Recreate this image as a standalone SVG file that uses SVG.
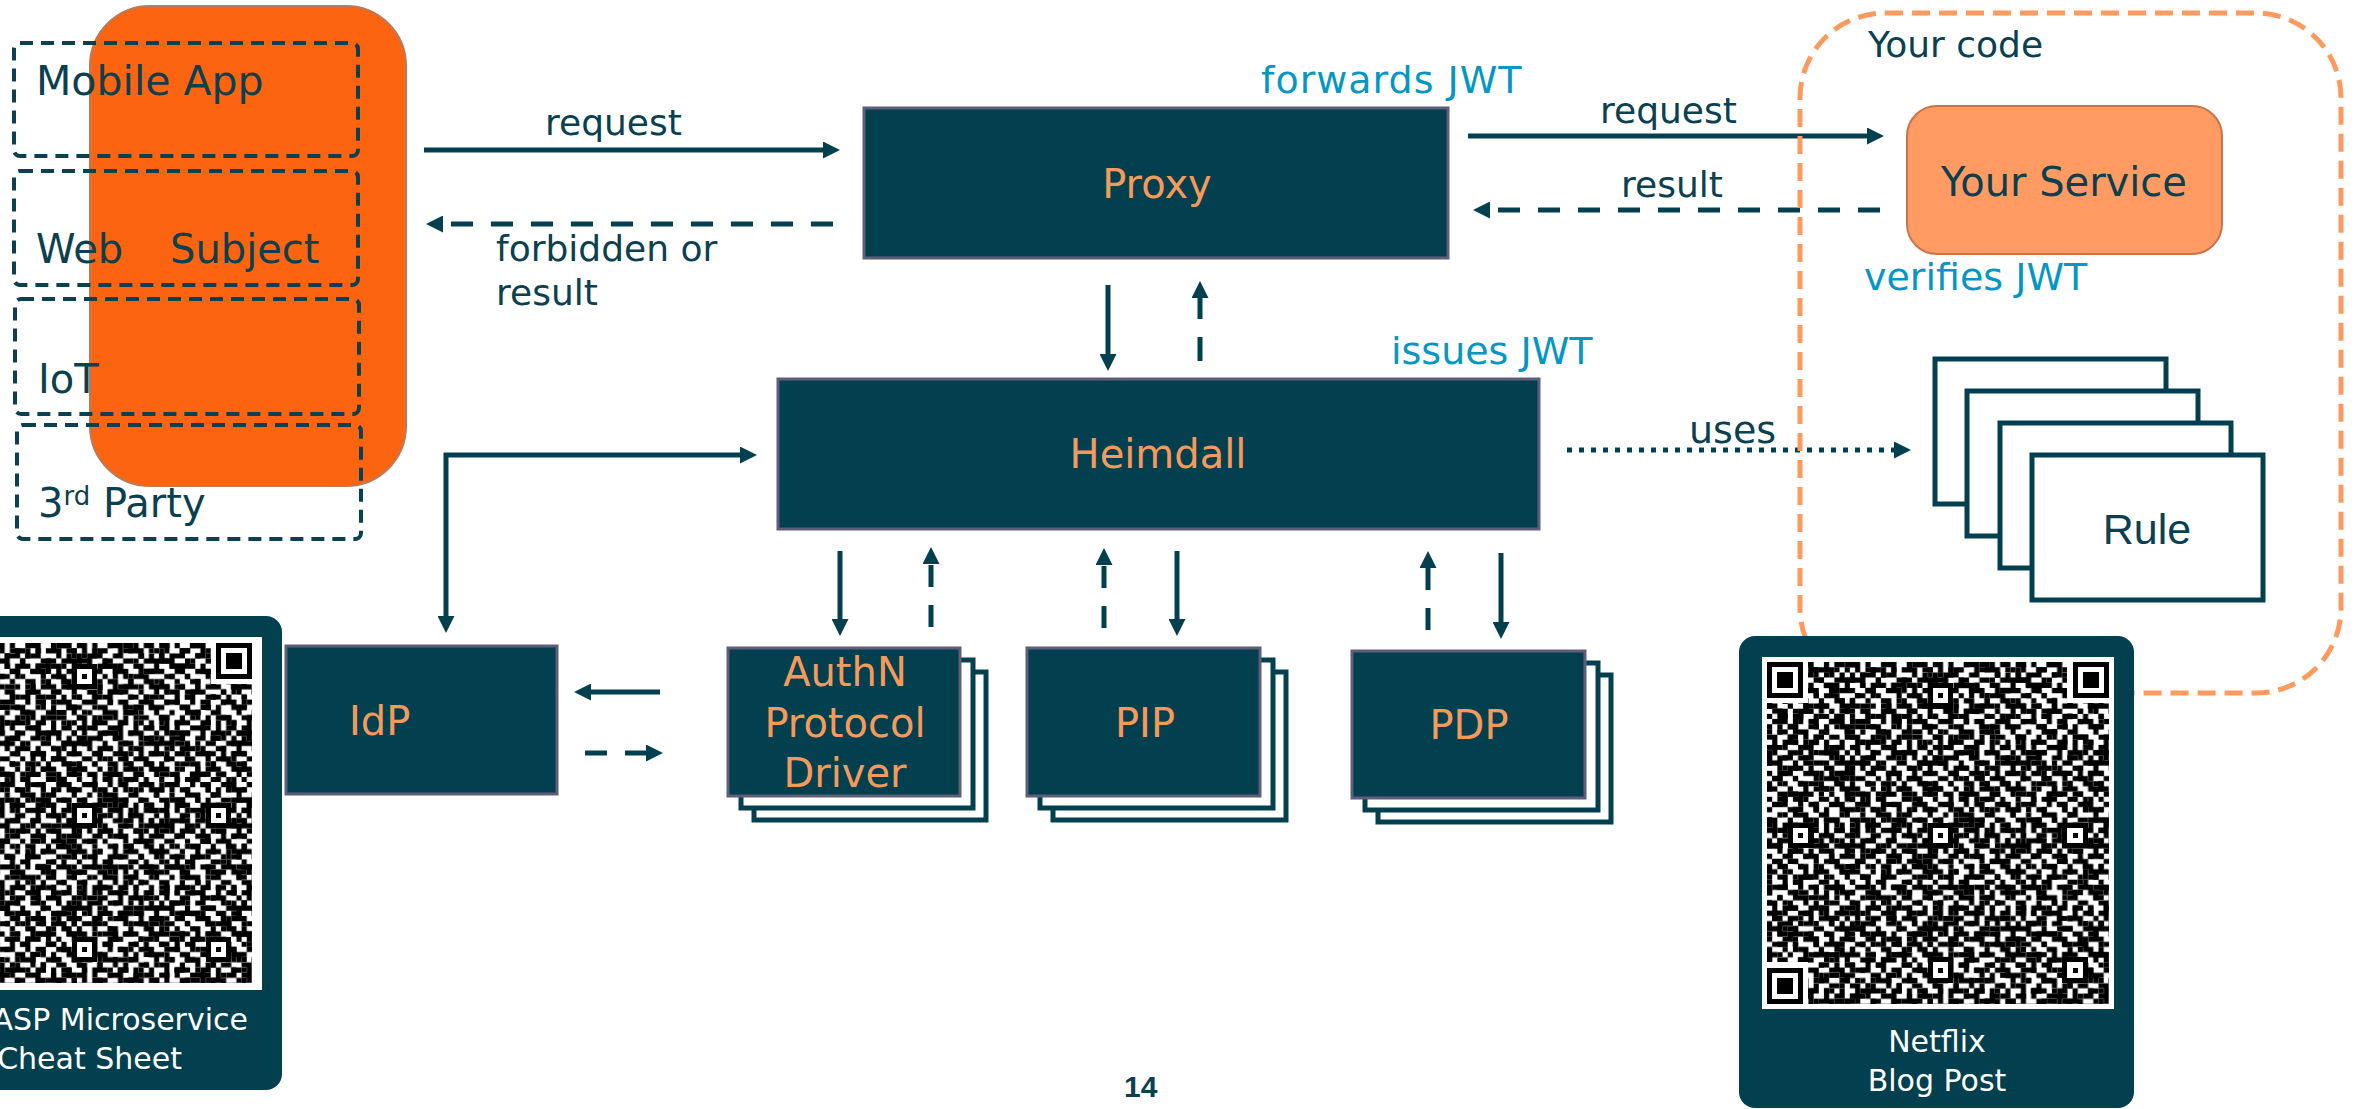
<svg xmlns="http://www.w3.org/2000/svg" xmlns:xlink="http://www.w3.org/1999/xlink" width="2356" height="1109" viewBox="0 0 2356 1109">
<style>
.t{font-family:'DejaVu Sans',sans-serif}
.dark{fill:#0B4050}
.or{fill:#F69A5C}
.cy{fill:#0696C3}
.wh{fill:#ffffff}
.box{fill:#02404F;stroke:#5E5D7A;stroke-width:3}
.back{fill:#ffffff;stroke:#02404F;stroke-width:5}
.cl{fill:none;stroke:#0B4050;stroke-width:4;stroke-dasharray:13 8}
.ln{fill:none;stroke:#02404F;stroke-width:5}
.dash{stroke-dasharray:22 18}
.dot{stroke-dasharray:5 7}
.card{fill:#02404F}
</style>
<defs>
<marker id="ah" viewBox="0 0 17 17" refX="2" refY="8.5" markerWidth="17" markerHeight="17" markerUnits="userSpaceOnUse" orient="auto-start-reverse">
<path d="M0,0 L17,8.5 L0,17 z" fill="#02404F"/>
</marker>
<pattern id="qrA" patternUnits="userSpaceOnUse" width="16" height="16">
<path fill="#000" d="M0 0h2v1h-2z M3 0h1v1h-1z M6 0h3v1h-3z M11 0h1v1h-1z M13 0h2v1h-2z
M1 1h1v1h-1z M4 1h2v1h-2z M8 1h1v1h-1z M10 1h3v1h-3z M15 1h1v1h-1z
M0 2h1v1h-1z M2 2h3v1h-3z M7 2h2v1h-2z M12 2h1v1h-1z M14 2h1v1h-1z
M0 3h3v1h-3z M5 3h1v1h-1z M9 3h2v1h-2z M13 3h3v1h-3z
M2 4h1v1h-1z M4 4h3v1h-3z M8 4h1v1h-1z M11 4h2v1h-2z M15 4h1v1h-1z
M0 5h1v1h-1z M3 5h2v1h-2z M7 5h3v1h-3z M12 5h1v1h-1z M14 5h2v1h-2z
M1 6h2v1h-2z M5 6h1v1h-1z M9 6h1v1h-1z M11 6h3v1h-3z
M0 7h1v1h-1z M3 7h1v1h-1z M6 7h2v1h-2z M10 7h1v1h-1z M13 7h2v1h-2z
M0 8h2v1h-2z M4 8h1v1h-1z M7 8h1v1h-1z M9 8h3v1h-3z M14 8h2v1h-2z
M2 9h2v1h-2z M6 9h3v1h-3z M12 9h1v1h-1z M15 9h1v1h-1z
M0 10h1v1h-1z M3 10h1v1h-1z M5 10h2v1h-2z M10 10h2v1h-2z M13 10h1v1h-1z
M1 11h3v1h-3z M6 11h1v1h-1z M8 11h2v1h-2z M12 11h3v1h-3z
M0 12h1v1h-1z M4 12h2v1h-2z M9 12h1v1h-1z M11 12h1v1h-1z M14 12h2v1h-2z
M2 13h1v1h-1z M5 13h3v1h-3z M10 13h2v1h-2z M15 13h1v1h-1z
M0 14h2v1h-2z M4 14h1v1h-1z M7 14h1v1h-1z M9 14h1v1h-1z M12 14h2v1h-2z
M1 15h1v1h-1z M3 15h3v1h-3z M8 15h2v1h-2z M11 15h1v1h-1z M14 15h1v1h-1z"/>
</pattern>
<pattern id="qrB" patternUnits="userSpaceOnUse" width="11" height="11">
<path fill="#000" d="M5 0h1v1h-1z M2 1h1v1h-1z M8 1h2v1h-2z M0 2h1v1h-1z M4 3h2v1h-2z M10 3h1v1h-1z M7 4h1v1h-1z M1 5h2v1h-2z M6 6h1v1h-1z M9 6h1v1h-1z M3 7h1v1h-1z M0 8h1v1h-1z M7 8h2v1h-2z M5 9h1v1h-1z M2 10h2v1h-2z M9 10h1v1h-1z"/>
</pattern>
<pattern id="qrC" patternUnits="userSpaceOnUse" width="13" height="13">
<path fill="#000" d="M2 0h2v1h-2z M9 1h1v2h-1z M5 2h1v1h-1z M0 4h1v2h-1z M11 4h2v1h-2z M6 5h2v1h-2z M3 7h1v1h-1z M10 8h1v2h-1z M1 9h2v1h-2z M6 10h1v1h-1z M4 12h2v1h-2z M12 11h1v1h-1z"/>
</pattern>
<g id="finder">
<rect x="-1" y="-1" width="9" height="9" fill="#fff"/>
<rect width="7" height="7" fill="#000"/>
<rect x="1" y="1" width="5" height="5" fill="#fff"/>
<rect x="2" y="2" width="3" height="3" fill="#000"/>
</g>
<g id="align">
<rect x="-2" y="-2" width="5" height="5" fill="#000"/>
<rect x="-1" y="-1" width="3" height="3" fill="#fff"/>
<rect width="1" height="1" fill="#000"/>
</g>
<g id="qr">
<rect width="66" height="66" fill="url(#qrA)"/>
<rect width="66" height="66" fill="url(#qrB)"/>
<rect width="66" height="66" fill="url(#qrC)"/>
<use xlink:href="#finder" x="0" y="0"/>
<use xlink:href="#finder" x="59" y="0"/>
<use xlink:href="#finder" x="0" y="59"/>
<use xlink:href="#align" x="6" y="33"/>
<use xlink:href="#align" x="33" y="6"/>
<use xlink:href="#align" x="33" y="33"/>
<use xlink:href="#align" x="59" y="33"/>
<use xlink:href="#align" x="33" y="59"/>
<use xlink:href="#align" x="59" y="59"/>
</g>
</defs>

<rect width="2356" height="1109" fill="#ffffff"/>

<!-- Subject -->
<g id="subject">
<rect x="90" y="6" width="316" height="480" rx="60" fill="#FD6410" stroke="#B97A5C" stroke-width="2"/>
</g>
<g id="client-mobile">
<rect class="cl" x="14" y="43" width="344" height="113" rx="6"/>
<text class="t dark" x="36" y="95" font-size="41">Mobile App</text>
</g>
<g id="client-web">
<rect class="cl" x="14" y="171" width="344" height="114" rx="6"/>
<text class="t dark" x="36" y="263" font-size="40">Web</text>
</g>
<g id="client-iot">
<rect class="cl" x="15" y="299" width="344" height="115" rx="6"/>
<text class="t dark" x="38" y="393" font-size="40">IoT</text>
</g>
<g id="client-3rd">
<rect class="cl" x="17" y="425" width="344" height="114" rx="6"/>
<text class="t dark" x="38" y="517" font-size="40">3<tspan font-size="26" dy="-12">rd</tspan><tspan dy="12"> Party</tspan></text>
</g>
<g id="subject-label">
<text class="t dark" x="170" y="263" font-size="40">Subject</text>
</g>

<!-- Connectors -->
<g id="connectors">
<path class="ln" d="M424,150 H825" marker-end="url(#ah)"/>
<path class="ln dash" d="M833,224 H441" marker-end="url(#ah)"/>
<path class="ln" d="M1468,136 H1869" marker-end="url(#ah)"/>
<path class="ln dash" d="M1880,210 H1488" marker-end="url(#ah)"/>
<path class="ln" d="M1108,285 V356" marker-end="url(#ah)"/>
<path class="ln" d="M1200,361 V296" stroke-dasharray="24 18" marker-end="url(#ah)"/>
<path class="ln dot" d="M1567,450 H1896" marker-end="url(#ah)"/>
<path class="ln" d="M446,618 V455 H742" marker-start="url(#ah)" marker-end="url(#ah)"/>
<path class="ln" d="M660,692 H589" marker-end="url(#ah)"/>
<path class="ln dash" d="M585,753 H648" marker-end="url(#ah)"/>
<path class="ln" d="M840,551 V621" marker-end="url(#ah)"/>
<path class="ln dash" d="M931,627 V562" marker-end="url(#ah)"/>
<path class="ln dash" d="M1104,628 V563" marker-end="url(#ah)"/>
<path class="ln" d="M1177,551 V621" marker-end="url(#ah)"/>
<path class="ln dash" d="M1428,630 V566" marker-end="url(#ah)"/>
<path class="ln" d="M1501,553 V624" marker-end="url(#ah)"/>
<text class="t dark" x="545" y="135" font-size="36">request</text>
<text class="t dark" x="496" y="261" font-size="36">forbidden or</text>
<text class="t dark" x="496" y="305" font-size="36">result</text>
<text class="t dark" x="1600" y="123" font-size="36">request</text>
<text class="t dark" x="1621" y="197" font-size="36">result</text>
<text class="t dark" x="1689" y="443" font-size="38">uses</text>
</g>

<!-- Your code container -->
<g id="your-code">
<rect x="1800" y="13" width="541" height="680" rx="85" fill="none" stroke="#FF9A5E" stroke-width="5" stroke-dasharray="18 9"/>
<text class="t dark" x="1868" y="57" font-size="36">Your code</text>
</g>

<!-- Proxy -->
<g id="proxy">
<rect class="box" x="864" y="108" width="584" height="150"/>
<text class="t or" x="1157" y="198" font-size="40" text-anchor="middle">Proxy</text>
<text class="t cy" x="1261" y="93" font-size="38" letter-spacing="1">forwards JWT</text>
</g>

<!-- Heimdall -->
<g id="heimdall">
<rect class="box" x="778" y="379" width="761" height="150"/>
<text class="t or" x="1158" y="468" font-size="40" text-anchor="middle">Heimdall</text>
<text class="t cy" x="1391" y="364" font-size="38">issues JWT</text>
</g>

<!-- Your Service -->
<g id="your-service">
<rect x="1907" y="106" width="315" height="148" rx="30" fill="#FF9B63" stroke="#C7744A" stroke-width="2"/>
<text class="t dark" x="2064" y="196" font-size="40" text-anchor="middle">Your Service</text>
<text class="t cy" x="1864" y="290" font-size="38">verifies JWT</text>
</g>

<!-- Rule -->
<g id="rule">
<rect class="back" x="1935" y="359" width="231" height="145"/>
<rect class="back" x="1967" y="391" width="231" height="145"/>
<rect class="back" x="2000" y="423" width="231" height="145"/>
<rect class="back" x="2032" y="455" width="231" height="145"/>
<text x="2147" y="544" font-size="43" text-anchor="middle" font-family="'Liberation Sans',Arial,sans-serif" fill="#0B4050">Rule</text>
</g>

<!-- IdP -->
<g id="idp">
<rect class="box" x="286" y="646" width="271" height="148"/>
<text class="t or" x="349" y="735" font-size="40">IdP</text>
</g>

<!-- AuthN Protocol Driver -->
<g id="authn">
<rect class="back" x="754" y="672" width="232" height="148"/>
<rect class="back" x="741" y="660" width="232" height="148"/>
<rect class="box" x="728" y="648" width="232" height="148"/>
<text class="t or" x="845" y="686" font-size="40" text-anchor="middle">AuthN</text>
<text class="t or" x="845" y="737" font-size="40" text-anchor="middle">Protocol</text>
<text class="t or" x="845" y="787" font-size="40" text-anchor="middle">Driver</text>
</g>

<!-- PIP -->
<g id="pip">
<rect class="back" x="1053" y="672" width="233" height="148"/>
<rect class="back" x="1040" y="660" width="233" height="148"/>
<rect class="box" x="1027" y="648" width="233" height="148"/>
<text class="t or" x="1145" y="737" font-size="40" text-anchor="middle">PIP</text>
</g>

<!-- PDP -->
<g id="pdp">
<rect class="back" x="1378" y="675" width="233" height="147"/>
<rect class="back" x="1365" y="663" width="233" height="147"/>
<rect class="box" x="1352" y="651" width="233" height="147"/>
<text class="t or" x="1469" y="739" font-size="40" text-anchor="middle">PDP</text>
</g>

<!-- QR card left -->
<g id="qr-owasp">
<rect class="card" x="-115" y="616" width="397" height="474" rx="16"/>
<rect x="-93" y="637" width="355" height="353" fill="#ffffff"/>
<g transform="translate(-88,643) scale(5.15)" shape-rendering="crispEdges">
<use xlink:href="#qr"/>
</g>
<text class="t wh" x="248" y="1030" font-size="30" text-anchor="end">ASP Microservice</text>
<text class="t wh" x="182" y="1069" font-size="30" text-anchor="end">Cheat Sheet</text>
</g>

<!-- QR card Netflix -->
<g id="qr-netflix">
<rect class="card" x="1739" y="636" width="395" height="472" rx="16"/>
<rect x="1762" y="657" width="352" height="352" fill="#ffffff"/>
<g transform="translate(1767,662) scale(5.18)" shape-rendering="crispEdges">
<use xlink:href="#qr"/>
</g>
<text class="t wh" x="1937" y="1052" font-size="30" text-anchor="middle">Netflix</text>
<text class="t wh" x="1937" y="1091" font-size="30" text-anchor="middle">Blog Post</text>
</g>

<text x="1124" y="1097" font-size="30" font-weight="bold" font-family="'Liberation Sans',Arial,sans-serif" fill="#0B4050">14</text>
</svg>
